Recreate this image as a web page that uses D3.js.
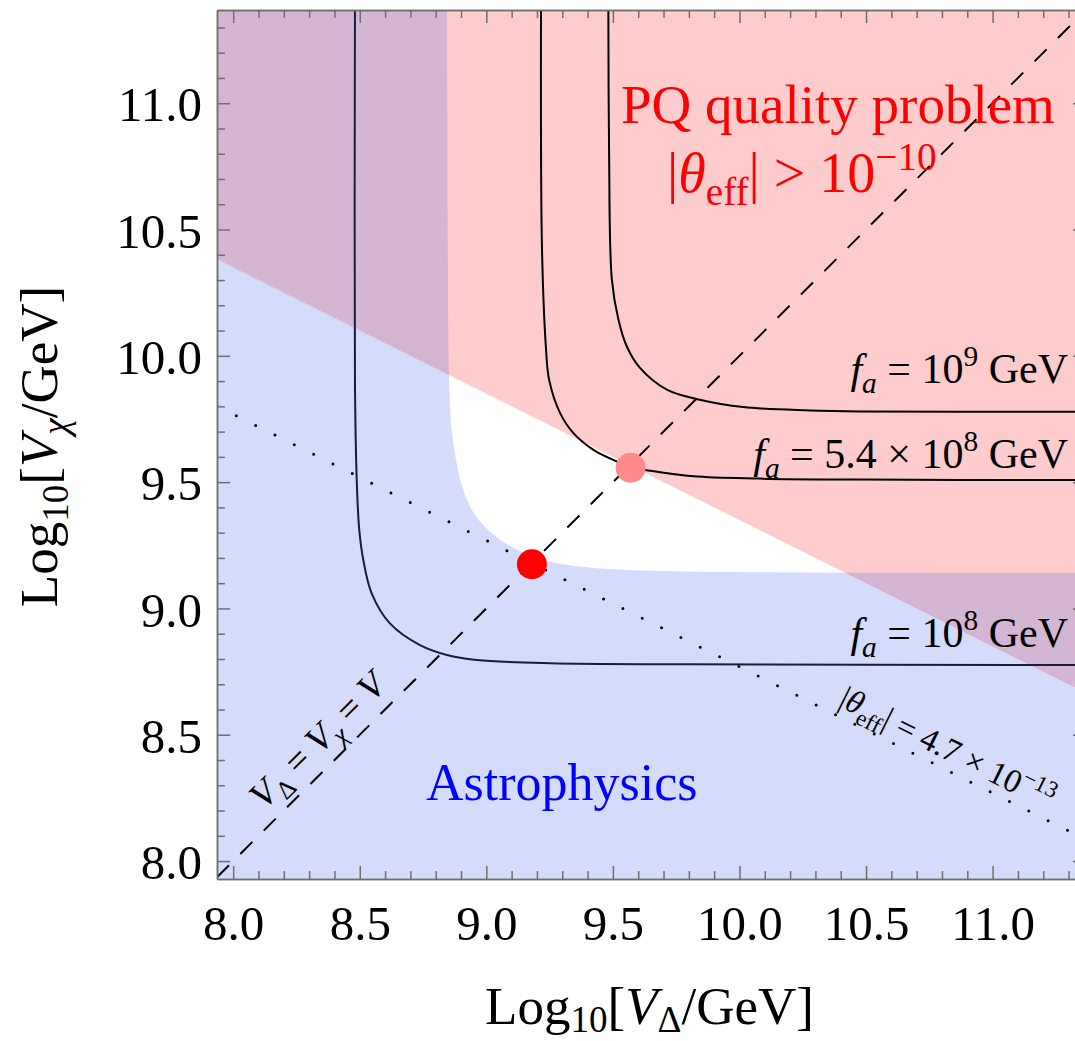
<!DOCTYPE html>
<html>
<head>
<meta charset="utf-8">
<style>
  body { margin: 0; background: #fff; }
  text { font-family: "Liberation Serif", "Times New Roman", serif; }
</style>
</head>
<body>
<svg id="chart" width="1075" height="1041"></svg>
<script src="https://d3js.org/d3.v7.min.js"></script>
<script>

// axis ticks
var majorTicks = [8.0, 8.5, 9.0, 9.5, 10.0, 10.5, 11.0];
var minorTicks = [8.1, 8.2, 8.3, 8.4, 8.6, 8.7, 8.8, 8.9, 9.1, 9.2, 9.3, 9.4, 9.6, 9.7, 9.8, 9.9,
                  10.1, 10.2, 10.3, 10.4, 10.6, 10.7, 10.8, 10.9, 11.1, 11.2, 11.3];

// PQ quality bound |theta_eff| = 1e-10 (straight edge of the pink region)
var pqEdgeX = [7.936, 11.369];
var pqEdgeY = [10.382, 8.665];

// astrophysics bound (edge of the blue region)
var astroEdgeX = [8.844, 8.847, 8.851, 8.862, 8.885, 8.918, 8.968, 9.040, 9.130, 9.250, 9.400, 9.681, 10.0, 11.369];
var astroEdgeY = [11.369, 10.5, 9.85, 9.70, 9.55, 9.43, 9.345, 9.280, 9.222, 9.182, 9.158, 9.147, 9.142, 9.140];

// f_a contours
var fa8X = [8.481, 8.481, 8.488, 8.498, 8.514, 8.547, 8.619, 8.738, 8.844, 8.962, 9.252, 9.8, 11.369];
var fa8Y = [11.369, 9.9, 9.509, 9.311, 9.192, 9.060, 8.941, 8.855, 8.816, 8.796, 8.783, 8.779, 8.776];
var fa54X = [9.216, 9.220, 9.236, 9.248, 9.291, 9.344, 9.423, 9.515, 9.571, 9.634, 9.818, 10.081, 10.476, 11.369];
var fa54Y = [11.369, 10.42, 10.024, 9.905, 9.774, 9.694, 9.628, 9.582, 9.558, 9.547, 9.523, 9.514, 9.510, 9.508];
var fa9X = [9.482, 9.485, 9.496, 9.522, 9.555, 9.607, 9.713, 9.843, 10.015, 10.279, 10.476, 11.369];
var fa9Y = [11.369, 10.8, 10.301, 10.143, 10.037, 9.952, 9.866, 9.826, 9.797, 9.784, 9.780, 9.779];

// V_Delta = V_chi line and |theta_eff| = 4.7e-13 line
var diagX = [7.936, 11.369];
var diagY = [7.936, 11.369];
var thetaX = [7.936, 11.369];
var thetaY = [9.801, 8.085];

// benchmark points
var pointX = [9.18, 9.57];
var pointY = [9.175, 9.557];
var pointColor = ["#ff0000", "#ff8a8c"];

var svg = d3.select("#chart");
var frameL = 217, frameR = 1086, frameT = 10, frameB = 879;

var x = d3.scaleLinear().domain([7.936, 11.369]).range([frameL, frameR]);
var y = d3.scaleLinear().domain([7.929, 11.369]).range([frameB, frameT]);

svg.append("defs").append("clipPath").attr("id", "frameClip")
  .append("rect").attr("x", frameL).attr("y", frameT)
  .attr("width", frameR - frameL).attr("height", frameB - frameT);

var plot = svg.append("g").attr("clip-path", "url(#frameClip)");

function pts(xs, ys) { return xs.map(function(v, i) { return [v, ys[i]]; }); }

var line = d3.line().x(function(d) { return x(d[0]); }).y(function(d) { return y(d[1]); });
var smooth = d3.line().x(function(d) { return x(d[0]); }).y(function(d) { return y(d[1]); })
  .curve(d3.curveCatmullRom.alpha(0.5));
var soft = d3.line().x(function(d) { return x(d[0]); }).y(function(d) { return y(d[1]); })
  .curve(d3.curveBasis);

var xmin = x.domain()[0], xmax = x.domain()[1], ymin = y.domain()[0], ymax = y.domain()[1];

// pink: PQ quality problem
var pinkPoly = [[xmin, ymax], [xmax, ymax]].concat(pts(pqEdgeX, pqEdgeY).reverse());
plot.append("path").attr("d", line(pinkPoly) + "Z").attr("fill", "#ffcccd");

// f_a contours (under the blue layer)
[[fa8X, fa8Y], [fa54X, fa54Y], [fa9X, fa9Y]].forEach(function(c) {
  plot.append("path").attr("d", smooth(pts(c[0], c[1])))
    .attr("fill", "none").attr("stroke", "#000").attr("stroke-width", 2);
});

// blue: astrophysics
plot.append("path").attr("d", soft(pts(astroEdgeX, astroEdgeY)) +
    line([[xmax, ymin], [xmin, ymin], [xmin, ymax]]).replace("M", "L") + "Z")
  .attr("fill", "rgb(90,113,235)").attr("fill-opacity", 0.255);

// dashed V_Delta = V_chi
plot.append("path").attr("d", line(pts(diagX, diagY)))
  .attr("fill", "none").attr("stroke", "#000").attr("stroke-width", 2)
  .attr("stroke-dasharray", "17,16");

// dotted |theta_eff| line
plot.append("path").attr("d", line(pts(thetaX, thetaY)))
  .attr("fill", "none").attr("stroke", "#000").attr("stroke-width", 3)
  .attr("stroke-linecap", "round").attr("stroke-dasharray", "0,21.6");

plot.selectAll("circle.pt").data(pointX).enter().append("circle")
  .attr("cx", function(d) { return x(d); })
  .attr("cy", function(d, i) { return y(pointY[i]); })
  .attr("r", 15)
  .attr("fill", function(d, i) { return pointColor[i]; });

// rich text helper: parts with sub / sup / italic
function richText(g, parts, size, subShift) {
  var t = g.append("text").attr("font-size", size);
  var shift = 0, sub = subShift || 0.24;
  parts.forEach(function(p) {
    var s = p.sub ? sub * size : (p.sup ? -0.4 * size : 0);
    var ts = t.append("tspan").text(p.t).attr("dy", s - shift);
    if (p.sub || p.sup) ts.attr("font-size", size * 0.7);
    if (p.it) ts.attr("font-style", "italic");
    shift = s;
  });
  return t;
}

var ann = svg.append("g").attr("clip-path", "url(#frameClip)");

richText(ann, [{t: "PQ quality problem"}], 55)
  .attr("x", 621).attr("y", 123).attr("fill", "#ff0000");
richText(ann, [{t: "|"}, {t: "\u03b8", it: true}, {t: "eff", sub: true}, {t: "| > 10"}, {t: "\u221210", sup: true}], 56)
  .attr("x", 667).attr("y", 192).attr("fill", "#ff0000");

richText(ann, [{t: "Astrophysics"}], 52)
  .attr("x", 426).attr("y", 800).attr("fill", "#0000ff");

function faLabel(parts, yb) {
  richText(ann, [{t: "f", it: true}, {t: "a", sub: true, it: true}].concat(parts), 42)
    .attr("x", 1068).attr("y", yb).attr("text-anchor", "end").attr("fill", "#000");
}
faLabel([{t: " = 10"}, {t: "9", sup: true}, {t: " GeV"}], 383);
faLabel([{t: " = 5.4 \u00d7 10"}, {t: "8", sup: true}, {t: " GeV"}], 468);
faLabel([{t: " = 10"}, {t: "8", sup: true}, {t: " GeV"}], 647);

// rotated labels along the lines
function angleOf(xs, ys) {
  return Math.atan2(y(ys[1]) - y(ys[0]), x(xs[1]) - x(xs[0])) * 180 / Math.PI;
}
var diagAt = 8.161;
richText(ann, [{t: "V", it: true}, {t: "\u0394", sub: true}, {t: " = "}, {t: "V", it: true},
               {t: "\u03c7", sub: true, it: true}, {t: " = "}, {t: "V", it: true}], 37)
  .attr("transform", "translate(" + x(diagAt) + "," + y(diagAt) + ") rotate(" + angleOf(diagX, diagY) + ") translate(0,-14)");

var thAt = 10.37;
var thY = thetaY[0] + (thetaY[1] - thetaY[0]) * (thAt - thetaX[0]) / (thetaX[1] - thetaX[0]);
richText(ann, [{t: "|"}, {t: "\u03b8", it: true}, {t: "eff", sub: true}, {t: "| = 4.7 \u00d7 10"}, {t: "\u221213", sup: true}], 33)
  .attr("transform", "translate(" + x(thAt) + "," + y(thY) + ") rotate(" + angleOf(thetaX, thetaY) + ") translate(0,-9)");

// frame with inward ticks
var frameColor = "#6f6f6f";
function frameAxis(axis, tx, ty, size, vals) {
  var g = svg.append("g").attr("transform", "translate(" + tx + "," + ty + ")")
    .call(axis.tickValues(vals).tickSize(size).tickSizeOuter(0).tickFormat(""));
  g.select(".domain").attr("stroke", frameColor).attr("stroke-width", 1.5);
  g.selectAll(".tick line").attr("stroke", frameColor).attr("stroke-width", 1.5);
  return g;
}
[[majorTicks, -13], [minorTicks, -8]].forEach(function(s) {
  frameAxis(d3.axisBottom(x), 0, frameB, s[1], s[0]);
  frameAxis(d3.axisTop(x), 0, frameT, s[1], s[0]);
  frameAxis(d3.axisLeft(y), frameL, 0, s[1], s[0]);
  frameAxis(d3.axisRight(y), frameR, 0, s[1], s[0]);
});

// tick labels
var fmt = d3.format(".1f");
var xl = svg.append("g").attr("transform", "translate(0," + frameB + ")")
  .call(d3.axisBottom(x).tickValues(majorTicks).tickSize(0).tickPadding(26).tickFormat(fmt));
xl.select(".domain").remove();
xl.selectAll("text").attr("font-size", 49).attr("font-family", "Liberation Serif").attr("fill", "#000");

var yl = svg.append("g").attr("transform", "translate(" + frameL + ",0)")
  .call(d3.axisLeft(y).tickValues(majorTicks).tickSize(0).tickPadding(15).tickFormat(fmt));
yl.select(".domain").remove();
yl.selectAll("text").attr("font-size", 49).attr("font-family", "Liberation Serif").attr("fill", "#000")
  .attr("dy", "0.36em");

// axis titles
richText(svg, [{t: "Log"}, {t: "10", sub: true}, {t: "["}, {t: "V", it: true}, {t: "\u0394", sub: true},
               {t: "/GeV]"}], 53, 0.16)
  .attr("x", (frameL + 1074) / 2 + 4).attr("y", 1024).attr("text-anchor", "middle");
richText(svg, [{t: "Log"}, {t: "10", sub: true}, {t: "["}, {t: "V", it: true}, {t: "\u03c7", sub: true, it: true},
               {t: "/GeV]"}], 53, 0.2)
  .attr("transform", "translate(57," + ((frameT + frameB) / 2 + 2) + ") rotate(-90)").attr("text-anchor", "middle");

</script>
</body>
</html>
